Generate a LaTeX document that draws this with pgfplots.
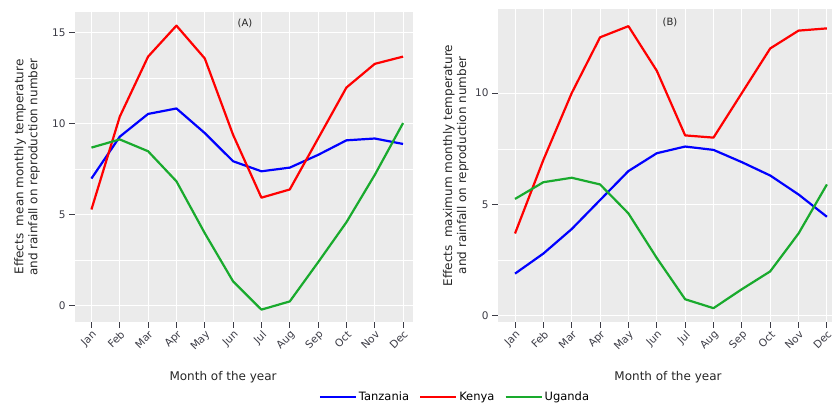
\documentclass[border=0pt]{standalone}
\usepackage{pgfplots}
\pgfplotsset{compat=1.18}
\usepackage{fontspec}
\setmainfont{DejaVu Sans}
\definecolor{bggray}{RGB}{235,235,235}
\definecolor{tz}{RGB}{0,0,255}
\definecolor{ke}{RGB}{255,0,0}
\definecolor{ug}{RGB}{25,170,45}
\definecolor{tickc}{RGB}{60,60,70}
\pgfplotsset{
  myaxis/.style={
    scale only axis,
    axis background/.style={fill=bggray},
    axis line style={draw=none},
    xmin=-0.58, 
    xtick={0,...,11},
    xticklabels={Jan,Feb,Mar,Apr,May,Jun,Jul,Aug,Sep,Oct,Nov,Dec},
    xticklabel style={rotate=45, anchor=north east, font=\fontsize{10.5}{12}\selectfont, text=tickc, inner sep=1pt},
    yticklabel style={font=\fontsize{10.5}{12}\selectfont, text=tickc},
    /pgf/number format/assume math mode=true,
    xtick pos=bottom, ytick pos=left,
    tick align=outside,
    major tick length=6pt,
    minor tick length=0pt,
    tick style={color=tickc, line width=1pt},
    grid=both,
    major grid style={white, line width=1pt},
    minor grid style={white, line width=0.5pt},
    minor y tick num=1,
    label style={font=\fontsize{12}{14}\selectfont, text=black!85},
    every axis plot/.append style={line width=2.2pt, line join=round},
  }
}
\begin{document}
\begin{tikzpicture}
\path[use as bounding box] (0,0) rectangle (834pt,403pt);
\begin{axis}[myaxis,
  at={(75pt,81pt)}, anchor=south west,
  width=338pt, height=310pt,
  xmax=11.35, ymin=-0.88, ymax=16.15,
  ytick={0,5,10,15},
  xlabel={Month of the year},
  xlabel style={at={(axis description cs:0.438,0)}, anchor=center, yshift=-55pt},
  ylabel={Effects\ \ mean monthly temperature\\and rainfall on reproduction number},
  ylabel style={align=center, at={(axis description cs:-0.142,0.5)}, anchor=center},
  legend columns=3,
  legend style={draw=none, fill=none, at={(axis description cs:1.124,-0.242)}, anchor=center,
    font=\fontsize{11.5}{13}\selectfont, /tikz/every even column/.append style={column sep=8pt}},
  legend image code/.code={\draw[#1] (0pt,0pt) -- (36pt,0pt);},
]
\addplot[tz] coordinates {(0,7.0) (1,9.3) (2,10.55) (3,10.85) (4,9.5) (5,7.95) (6,7.4) (7,7.6) (8,8.3) (9,9.1) (10,9.2) (11,8.9)};
\addlegendentry{Tanzania}
\addplot[ke] coordinates {(0,5.3) (1,10.4) (2,13.7) (3,15.4) (4,13.6) (5,9.4) (6,5.95) (7,6.4) (8,9.2) (9,12.0) (10,13.3) (11,13.7)};
\addlegendentry{Kenya}
\addplot[ug] coordinates {(0,8.7) (1,9.15) (2,8.5) (3,6.85) (4,4.0) (5,1.35) (6,-0.2) (7,0.25) (8,2.4) (9,4.6) (10,7.2) (11,10.05)};
\addlegendentry{Uganda}
\node[font=\fontsize{10}{12}\selectfont, text=black!85] at (axis description cs:0.503,0.964) {(A)};
\end{axis}
\begin{axis}[myaxis,
  at={(498pt,81pt)}, anchor=south west,
  width=334pt, height=313pt,
  xmin=-0.6, xmax=11.18, ymin=-0.27, ymax=13.77,
  ytick={0,5,10},
  xlabel={Month of the year},
  xlabel style={at={(axis description cs:0.509,0)}, anchor=center, yshift=-55pt},
  ylabel={Effects\ \ maximum monthly temperature\\and rainfall on reproduction number},
  ylabel style={align=center, at={(axis description cs:-0.126,0.5)}, anchor=center},
]
\addplot[tz] coordinates {(0,1.9) (1,2.8) (2,3.9) (3,5.2) (4,6.5) (5,7.3) (6,7.6) (7,7.45) (8,6.9) (9,6.3) (10,5.45) (11,4.45)};
\addplot[ke] coordinates {(0,3.7) (1,7.0) (2,10.0) (3,12.5) (4,13.0) (5,11.0) (6,8.1) (7,8.0) (8,10.0) (9,12.0) (10,12.8) (11,12.9)};
\addplot[ug] coordinates {(0,5.25) (1,6.0) (2,6.2) (3,5.9) (4,4.6) (5,2.6) (6,0.75) (7,0.35) (8,1.2) (9,2.0) (10,3.7) (11,5.9)};
\node[font=\fontsize{10}{12}\selectfont, text=black!85] at (axis description cs:0.515,0.957) {(B)};
\end{axis}
\end{tikzpicture}
\end{document}
